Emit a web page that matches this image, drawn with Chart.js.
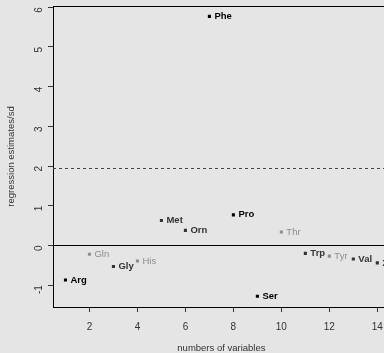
<!DOCTYPE html>
<html>
<head>
<meta charset="utf-8">
<script src="https://cdn.jsdelivr.net/npm/chart.js@4"></script>
<style>
  html, body { margin: 0; padding: 0; background: #e5e5e5; overflow: hidden; }
  canvas { display: block; }
</style>
</head>
<body>
<canvas id="chart" width="392" height="353"></canvas>
<script>
const names = ['Arg', 'Gln', 'Gly', 'His', 'Met', 'Orn', 'Phe', 'Pro', 'Ser', 'Thr', 'Trp', 'Tyr', 'Val', 'Xle'];
const numVars = [1, 2, 3, 4, 5, 6, 7, 8, 9, 10, 11, 12, 13, 14];
const estimates = [-0.87, -0.22, -0.53, -0.39, 0.63, 0.38, 5.77, 0.77, -1.28, 0.34, -0.20, -0.27, -0.34, -0.44];
const strongVars = ['Arg', 'Phe', 'Pro', 'Ser'];
const faintVars = ['Gln', 'His', 'Thr', 'Tyr'];
const xTicks = [2, 4, 6, 8, 10, 12, 14];
const yTicks = [-1, 0, 1, 2, 3, 4, 5, 6];
const cutoff = 1.96;

const FONT = '"Liberation Sans", Arial, sans-serif';

function colorFor(name) {
  if (strongVars.includes(name)) return '#000000';
  if (faintVars.includes(name)) return '#8e8e8e';
  return '#333333';
}

const points = numVars.map((x, i) => ({ x: x, y: estimates[i] }));

const refLines = {
  id: 'refLines',
  beforeDatasetsDraw(chart) {
    const { ctx, chartArea, scales } = chart;
    const y0 = scales.y.getPixelForValue(0);
    const yc = scales.y.getPixelForValue(cutoff);
    ctx.save();
    ctx.strokeStyle = '#000';
    ctx.lineWidth = 1;
    // box top
    ctx.beginPath();
    ctx.moveTo(chartArea.left, Math.round(chartArea.top) + 0.5);
    ctx.lineTo(chartArea.right, Math.round(chartArea.top) + 0.5);
    ctx.stroke();
    // h = 0
    ctx.beginPath();
    ctx.moveTo(chartArea.left, Math.round(y0) + 0.5);
    ctx.lineTo(chartArea.right, Math.round(y0) + 0.5);
    ctx.stroke();
    // cutoff
    ctx.strokeStyle = '#444';
    ctx.setLineDash([3, 3]);
    ctx.beginPath();
    ctx.moveTo(chartArea.left, Math.round(yc) + 0.5);
    ctx.lineTo(chartArea.right, Math.round(yc) + 0.5);
    ctx.stroke();
    ctx.restore();
  }
};

const pointLabels = {
  id: 'pointLabels',
  afterDatasetsDraw(chart) {
    const ctx = chart.ctx;
    const meta = chart.getDatasetMeta(0);
    ctx.save();
    ctx.textBaseline = 'middle';
    ctx.textAlign = 'left';
    meta.data.forEach((pt, i) => {
      const name = names[i];
      const faint = faintVars.includes(name);
      ctx.font = (faint ? '' : 'bold ') + '9.5px ' + FONT;
      ctx.fillStyle = colorFor(name);
      ctx.fillText(name, pt.x + 5, pt.y);
    });
    ctx.restore();
  }
};

new Chart(document.getElementById('chart'), {
  type: 'scatter',
  data: {
    datasets: [{
      data: points,
      pointStyle: 'rect',
      pointRadius: 2.2,
      pointHoverRadius: 2.2,
      borderWidth: 0,
      backgroundColor: names.map(colorFor),
      borderColor: names.map(colorFor)
    }]
  },
  options: {
    responsive: false,
    animation: false,
    events: [],
    layout: { padding: { top: 6, right: 2, bottom: 0, left: 0 } },
    plugins: {
      legend: { display: false },
      tooltip: { enabled: false }
    },
    scales: {
      x: {
        type: 'linear',
        min: 0.48,
        max: 14.52,
        afterBuildTicks: (scale) => { scale.ticks = xTicks.map(v => ({ value: v })); },
        afterFit: (scale) => { scale.height = 46; scale.paddingLeft = 0; scale.paddingRight = 0; },
        grid: { drawOnChartArea: false, drawTicks: true, tickLength: 5, tickColor: '#333' },
        border: { display: true, color: '#000', width: 1 },
        ticks: { color: '#333', padding: 9, font: { family: FONT, size: 10 }, maxRotation: 0 },
        title: {
          display: true, text: 'numbers of variables', color: '#333',
          font: { family: FONT, size: 9.5, lineHeight: 1 },
          padding: { top: 0, bottom: 0 }
        }
      },
      y: {
        type: 'linear',
        min: -1.55,
        max: 6.03,
        afterBuildTicks: (scale) => { scale.ticks = yTicks.map(v => ({ value: v })); },
        afterFit: (scale) => { scale.width = 53; scale.paddingTop = 0; scale.paddingBottom = 0; },
        grid: { drawOnChartArea: false, drawTicks: true, tickLength: 5, tickColor: '#333' },
        border: { display: true, color: '#000', width: 1 },
        ticks: { color: '#333', padding: 9, minRotation: 90, maxRotation: 90, font: { family: FONT, size: 10 } },
        title: {
          display: true, text: 'regression estimates/sd', color: '#333',
          font: { family: FONT, size: 9.5, lineHeight: 1 },
          padding: { top: 7, bottom: 0 }
        }
      }
    }
  },
  plugins: [refLines, pointLabels]
});
</script>
</body>
</html>
